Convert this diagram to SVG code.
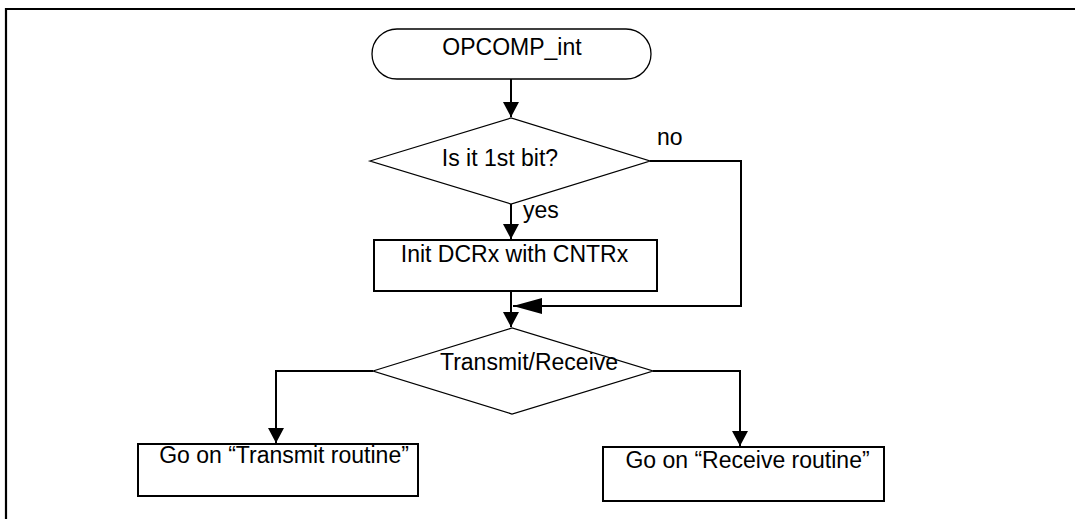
<svg xmlns="http://www.w3.org/2000/svg" width="1075" height="519" viewBox="0 0 1075 519">
<style>
.t{font-family:"Liberation Sans",Arial,sans-serif;font-size:23px;fill:#000}
.thin{fill:#fff;stroke:#000;stroke-width:1.3}
.box{fill:#fff;stroke:#000;stroke-width:2}
.c{fill:none;stroke:#000;stroke-width:2}
</style>
<defs>
<marker id="ah" markerUnits="userSpaceOnUse" markerWidth="16" markerHeight="16" viewBox="0 0 16 16" refX="15" refY="8" orient="auto">
<path d="M0,0 L15,8 L0,16 Z" fill="#000"/>
</marker>
<marker id="ahBig" markerUnits="userSpaceOnUse" markerWidth="30" markerHeight="18" viewBox="0 0 30 18" refX="29" refY="9" orient="auto">
<path d="M0,1 L29,9 L0,17 Z" fill="#000"/>
</marker>
</defs>
<path d="M6,525 V9 H1080" fill="none" stroke="#000" stroke-width="2.2"/>
<g id="connectors">
<path class="c" d="M511,79 V117" marker-end="url(#ah)"/>
<path class="c" d="M650,161 H741 V306 H513" marker-end="url(#ahBig)"/>
<path class="c" d="M511,204 V239" marker-end="url(#ah)"/>
<path class="c" d="M511,291 V327" marker-end="url(#ah)"/>
<path class="c" d="M373,371 H276 V443" marker-end="url(#ah)"/>
<path class="c" d="M653,371 H740 V446" marker-end="url(#ah)"/>
<text class="t" x="657" y="145">no</text>
<text class="t" x="523" y="218">yes</text>
</g>
<g id="start">
<rect class="thin" x="372" y="29" width="279" height="50" rx="25" ry="25"/>
<text class="t" x="512" y="55" text-anchor="middle">OPCOMP_int</text>
</g>
<g id="decision1">
<polygon class="thin" points="370,161 511,118 650,161 511,204"/>
<text class="t" x="500" y="166" text-anchor="middle">Is it 1st bit?</text>
</g>
<g id="init">
<rect class="box" x="374" y="240" width="283" height="51"/>
<text class="t" x="514.5" y="262" text-anchor="middle">Init DCRx with CNTRx</text>
</g>
<g id="decision2">
<polygon class="thin" points="373,371 512,328 653,371 512,414"/>
<text class="t" x="529" y="370" text-anchor="middle">Transmit/Receive</text>
</g>
<g id="transmit">
<rect class="box" x="138" y="444" width="280" height="52"/>
<text class="t" x="284" y="463" text-anchor="middle">Go on “Transmit routine”</text>
</g>
<g id="receive">
<rect class="box" x="603" y="447" width="281" height="54"/>
<text class="t" x="747.5" y="468" text-anchor="middle">Go on “Receive routine”</text>
</g>
</svg>
